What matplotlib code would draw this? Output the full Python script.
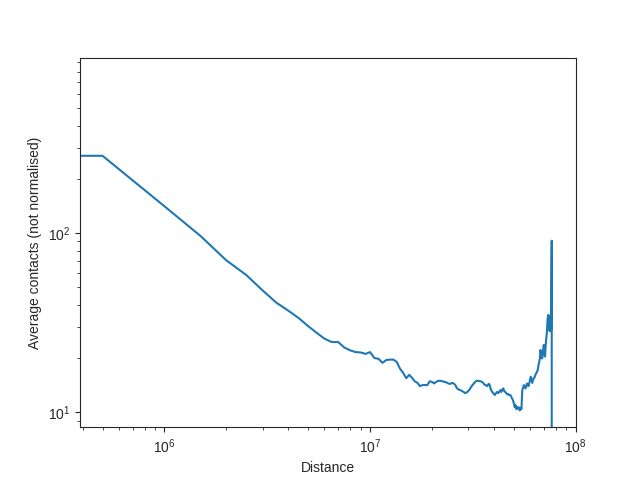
import numpy as np
import matplotlib
matplotlib.use("Agg")
import matplotlib.pyplot as plt
import seaborn as sns

sns.set_style("ticks")
plt.rcParams['font.family'] = ['Liberation Sans', 'DejaVu Sans']

# average contacts per distance bin (500 kb bins, first bin = diagonal, last bins empty)
bin_size = 500000
contacts = [
    772, 271, 141.6, 96.5, 70.6, 58.5, 48.0, 41.0, 37.0, 33.6,
    30.3, 27.8, 25.8, 24.7, 24.7, 23.0, 22.2, 21.7, 21.6, 21.2,
    21.7, 20.1, 19.9, 18.9, 19.6, 19.7, 19.7, 19.1, 17.5, 16.6,
    15.5, 16.2, 15.6, 14.9, 14.6, 14.0, 14.2, 14.2, 14.2, 14.9,
    14.8, 14.5, 14.8, 15.0, 15.0, 14.9, 14.8, 14.7, 14.5, 14.4,
    14.6, 14.5, 14.2, 13.6, 13.4, 13.3, 13.15, 13.0, 12.8, 12.9,
    13.15, 13.4, 13.85, 14.2, 14.5, 14.8, 15.0, 15.0, 14.96, 14.9,
    14.8, 14.6, 14.3, 14.2, 14.0, 14.3, 14.4, 13.7, 13.15, 12.9,
    12.65, 12.5, 12.8, 13.0, 12.8, 13.0, 13.3, 13.0, 13.4, 13.6,
    13.1, 13.0, 12.8, 12.6, 12.65, 12.5, 12.5, 12.3, 12.0, 11.7,
    11.3, 10.7, 11.0, 10.4, 10.7, 10.5, 10.65, 10.25, 10.6, 10.4,
    13.3, 13.7, 14.2, 13.85, 13.6, 14.0, 14.5, 14.2, 14.0, 14.6,
    15.15, 15.8, 15.15, 14.6, 15.15, 15.5, 15.6, 16.0, 16.4, 16.6,
    16.9, 17.4, 18.4, 19.1, 20.0, 22.3, 20.6, 20.0, 20.3, 22.3,
    23.8, 21.7, 20.5, 23.8, 26.0, 28.2, 32.8, 35.0, 28.8, 34.6,
    28.4, 34.0, 28.8, 90.9, 0, 0, 0,
]
distance = np.arange(len(contacts)) * bin_size

fig, ax = plt.subplots(figsize=(6.4, 4.8), dpi=100)
ax.plot(distance, contacts)
ax.set_xscale('log')
ax.set_yscale('log')
ax.set_xlabel("Distance")
ax.set_ylabel("Average contacts (not normalised)")

fig.savefig("out.png")
